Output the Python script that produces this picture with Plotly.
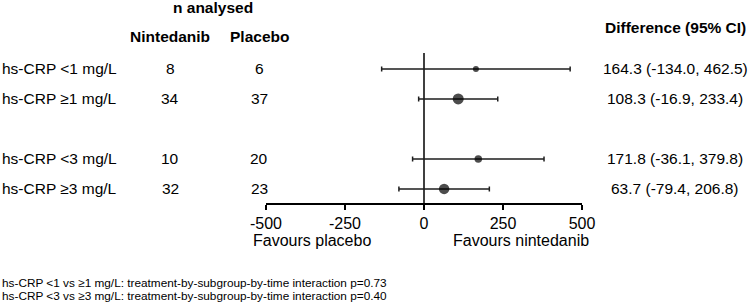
import plotly.graph_objects as go

# ---- data ----
subgroups = ["hs-CRP <1 mg/L", "hs-CRP ≥1 mg/L", "hs-CRP <3 mg/L", "hs-CRP ≥3 mg/L"]
row_pos = [0, 1, 3, 4]
n_nintedanib = [8, 34, 10, 32]
n_placebo = [6, 37, 20, 23]
difference = [164.3, 108.3, 171.8, 63.7]
ci_low = [-134.0, -16.9, -36.1, -79.4]
ci_high = [462.5, 233.4, 379.8, 206.8]
x_ticks = [-500, -250, 0, 250, 500]
footnotes = [
    "hs-CRP <1 vs ≥1 mg/L: treatment-by-subgroup-by-time interaction p=0.73",
    "hs-CRP <3 vs ≥3 mg/L: treatment-by-subgroup-by-time interaction p=0.40",
]

# ---- styles ----
marker_px = [6, 11, 7.5, 10.5]
FONT = "Liberation Sans, Arial, sans-serif"
W, H = 749, 306
PL, PR, PT, PB = 266, 582, 53, 203  # plot area pixel box


def px_x(px):
    return (px - PL) / (PR - PL)


def px_y(py):
    return (PB - py) / (PB - PT)


fig = go.Figure()
fig.add_trace(go.Scatter(
    x=difference, y=row_pos, mode="markers",
    marker=dict(color="black", size=marker_px, line=dict(width=0)),
    error_x=dict(type="data", symmetric=False,
                 array=[h - d for h, d in zip(ci_high, difference)],
                 arrayminus=[d - l for d, l in zip(difference, ci_low)],
                 color="#1e1e1e", thickness=1.5, width=2.5),
    showlegend=False, hoverinfo="skip",
))

# zero reference line
fig.add_shape(type="line", xref="x", yref="paper", x0=0, x1=0, y0=0, y1=1,
              line=dict(color="black", width=1.5), layer="below")

ann = []
txt = dict(family=FONT, size=15.5, color="black")
bold = dict(family=FONT, size=15.5, color="black", weight="bold")
for i, r in enumerate(row_pos):
    ann.append(dict(x=px_x(0), y=r, xref="paper", yref="y", text=subgroups[i],
                    xanchor="left", yanchor="middle", showarrow=False, font=txt))
    ann.append(dict(x=px_x(170), y=r, xref="paper", yref="y", text=str(n_nintedanib[i]),
                    xanchor="center", yanchor="middle", showarrow=False, font=txt))
    ann.append(dict(x=px_x(259), y=r, xref="paper", yref="y", text=str(n_placebo[i]),
                    xanchor="center", yanchor="middle", showarrow=False, font=txt))
    ann.append(dict(x=px_x(675), y=r, xref="paper", yref="y",
                    text=f"{difference[i]:.1f} ({ci_low[i]:.1f}, {ci_high[i]:.1f})",
                    xanchor="center", yanchor="middle", showarrow=False, font=txt))

ann.append(dict(x=px_x(213), y=px_y(8), xref="paper", yref="paper", text="n analysed",
                xanchor="center", yanchor="middle", showarrow=False, font=bold))
ann.append(dict(x=px_x(170), y=px_y(36), xref="paper", yref="paper", text="Nintedanib",
                xanchor="center", yanchor="middle", showarrow=False, font=bold))
ann.append(dict(x=px_x(259), y=px_y(36), xref="paper", yref="paper", text="Placebo",
                xanchor="center", yanchor="middle", showarrow=False, font=bold))
ann.append(dict(x=px_x(675), y=px_y(27), xref="paper", yref="paper", text="Difference (95% CI)",
                xanchor="center", yanchor="middle", showarrow=False, font=bold))
ann.append(dict(x=px_x(312), y=px_y(240), xref="paper", yref="paper", text="Favours placebo",
                xanchor="center", yanchor="middle", showarrow=False, font=dict(family=FONT, size=16, color="black")))
ann.append(dict(x=px_x(521), y=px_y(240), xref="paper", yref="paper", text="Favours nintedanib",
                xanchor="center", yanchor="middle", showarrow=False, font=dict(family=FONT, size=16, color="black")))
for k, t in enumerate(footnotes):
    ann.append(dict(x=px_x(0), y=px_y(283 + 13 * k), xref="paper", yref="paper", text=t,
                    xanchor="left", yanchor="middle", showarrow=False,
                    font=dict(family=FONT, size=11.8, color="black")))

fig.update_layout(
    width=W, height=H,
    margin=dict(l=PL, r=W - PR, t=PT, b=H - PB, pad=0),
    paper_bgcolor="white", plot_bgcolor="white",
    annotations=ann,
    xaxis=dict(range=[-500, 500], tickvals=x_ticks, ticktext=[str(v) for v in x_ticks],
               showline=True, linecolor="black", linewidth=1.5, ticks="outside",
               ticklen=5, tickwidth=1.5, tickcolor="black", showgrid=False, zeroline=False,
               tickfont=dict(family=FONT, size=16, color="black"), fixedrange=True),
    yaxis=dict(range=[4.47, -0.53], visible=False, showgrid=False, zeroline=False,
               fixedrange=True),
)

fig.write_html(
    "out.html",
    config={"displayModeBar": False},
    post_script="document.body.style.margin='0px';document.body.style.overflow='hidden';",
)
